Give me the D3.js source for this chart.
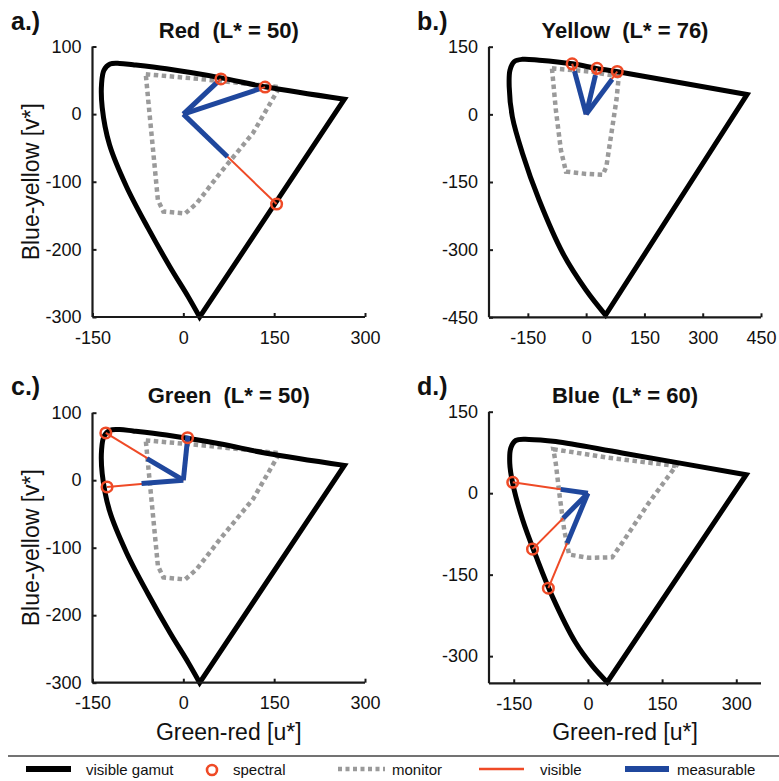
<!DOCTYPE html>
<html><head><meta charset="utf-8">
<script src="https://cdn.jsdelivr.net/npm/d3@7"></script>
<style>body{margin:0;background:#fff}text{font-family:"Liberation Sans",Arial,Helvetica,sans-serif}</style>
</head><body><svg id="c" width="779" height="781"></svg>
<script>
// ---- data (CIELUV u*, v*) ----
const titles = ["Red  (L* = 50)", "Yellow  (L* = 76)", "Green  (L* = 50)", "Blue  (L* = 60)"];
const panelLetters = ["a.)", "b.)", "c.)", "d.)"];
const xTicksAC = [-150, 0, 150, 300];
const yTicksAC = [100, 0, -100, -200, -300];
const xTicksB = [-150, 0, 150, 300, 450];
const yTicksB = [150, 0, -150, -300, -450];
const xTicksD = [-150, 0, 150, 300];
const yTicksD = [150, 0, -150, -300];

// visible gamut boundary (L*=50 used in a & c)
const gamut50 = [[266,22],[137,40],[60,54],[-28,67],[-83,73],[-105,75],[-121,74],[-131,65],[-135,45],[-134,10],[-122,-45],[-94,-107],[-58,-169],[-22,-226],[8,-270],[27,-300]];
const gamut76 = [[414,44],[78,95],[26,102],[-35,112],[-121,120],[-164,122],[-185,117],[-196,98],[-198,61],[-190,-5],[-164,-86],[-121,-190],[-60,-308],[0,-390],[50,-445]];
const gamut60 = [[320,34],[69,74],[-65,95],[-119,99],[-146,97],[-156,83],[-158,55],[-152,18],[-132,-49],[-105,-116],[-72,-190],[-25,-275],[9,-318],[39,-348]];

// monitor gamut
const monitor50 = [[-62,59],[27,52],[159,40],[115,-28],[60,-88],[22,-132],[3,-147],[-33,-144],[-42,-127],[-50,-53],[-58,21]];
const monitor76 = [[-88,102],[9,95],[84,84],[78,32],[65,-42],[52,-116],[43,-134],[0,-132],[-52,-127],[-65,-79],[-78,10],[-86,84]];
const monitor60 = [[-70,81],[36,66],[178,50],[123,-18],[69,-92],[49,-118],[2,-119],[-38,-113],[-48,-67],[-57,-6],[-65,55]];

// spectral (visible) end points and measurable end points per hue ray
const spectralA = [[62,52],[135,40],[154,-133]];
const measurableA = [[57,48],[128,38],[73,-63]];
const spectralB = [[-36,112],[28,102],[80,95]];
const measurableB = [[-30,96],[24,87],[67,78]];
const spectralC = [[-128,70],[-126,-10],[7,63]];
const measurableC = [[-60,32],[-69,-5],[7.5,66]];
const spectralD = [[-152,20],[-112,-103],[-80,-175]];
const measurableD = [[-55,7],[-50,-46],[-42,-92]];

const legendLabels = ["visible gamut", "spectral", "monitor", "visible", "measurable"];

// ---- style ----
const C_RED = "#ef4a26", C_BLUE = "#1f479d", C_GRAY = "#9a9a9a", C_AX = "#1a1a1a";

const panels = [
  {box:[92.5,46.5,365,317], xd:[-150,300], yd:[-300,100], xt:xTicksAC, yt:yTicksAC, g:gamut50, m:monitor50, s:spectralA, me:measurableA, ylab:true, xlab:false},
  {box:[489,46.7,761,317.3], xd:[-250,450], yd:[-450,150], xt:xTicksB, yt:yTicksB, g:gamut76, m:monitor76, s:spectralB, me:measurableB, ylab:false, xlab:false},
  {box:[92.5,412.7,365,682.7], xd:[-150,300], yd:[-300,100], xt:xTicksAC, yt:yTicksAC, g:gamut50, m:monitor50, s:spectralC, me:measurableC, ylab:true, xlab:true},
  {box:[489,411.7,761,683.3], xd:[-200,350], yd:[-350,150], xt:xTicksD, yt:yTicksD, g:gamut60, m:monitor60, s:spectralD, me:measurableD, ylab:false, xlab:true}
];

const svg = d3.select("#c");
const fmt = d => String(d);

panels.forEach((p, i) => {
  const [x0, y0, x1, y1] = p.box;
  const x = d3.scaleLinear().domain(p.xd).range([x0, x1]);
  const y = d3.scaleLinear().domain(p.yd).range([y1, y0]);
  const g = svg.append("g");

  // monitor gamut
  g.append("path").attr("d", d3.line().x(d => x(d[0])).y(d => y(d[1])).curve(d3.curveLinearClosed)(p.m))
    .attr("fill", "none").attr("stroke", C_GRAY).attr("stroke-width", 4.5).attr("stroke-dasharray", "4.5,3.5");

  // visible gamut
  const cr = d3.line().x(d => x(d[0])).y(d => y(d[1])).curve(d3.curveCatmullRom.alpha(0.5));
  g.append("path").attr("d", cr(p.g) + "Z")
    .attr("fill", "none").attr("stroke", "#000").attr("stroke-width", 5).attr("stroke-linejoin", "miter");

  // visible rays
  p.s.forEach(s => {
    g.append("line").attr("x1", x(0)).attr("y1", y(0)).attr("x2", x(s[0])).attr("y2", y(s[1]))
      .attr("stroke", C_RED).attr("stroke-width", 2);
  });
  // measurable rays
  p.me.forEach(m => {
    g.append("line").attr("x1", x(0)).attr("y1", y(0)).attr("x2", x(m[0])).attr("y2", y(m[1]))
      .attr("stroke", C_BLUE).attr("stroke-width", 5).attr("stroke-linecap", "butt");
  });
  // spectral circles
  p.s.forEach(s => {
    g.append("circle").attr("cx", x(s[0])).attr("cy", y(s[1])).attr("r", 5.3)
      .attr("fill", "none").attr("stroke", C_RED).attr("stroke-width", 2.5);
  });

  // axes
  const xa = d3.axisBottom(x).tickValues(p.xt).tickSize(-4).tickPadding(14).tickFormat(fmt);
  const ya = d3.axisLeft(y).tickValues(p.yt).tickSize(-4).tickPadding(11).tickFormat(fmt);
  const gx = g.append("g").attr("transform", `translate(0,${y1})`).call(xa);
  const gy = g.append("g").attr("transform", `translate(${x0},0)`).call(ya);
  [gx, gy].forEach(a => {
    a.select(".domain").attr("stroke", C_AX).attr("stroke-width", 2.2);
    a.selectAll(".tick line").attr("stroke", C_AX).attr("stroke-width", 2);
    a.selectAll(".tick text").attr("font-size", 18).attr("fill", "#111")
      .style("font-family", '"Liberation Sans",Arial,sans-serif');
  });
  gx.selectAll(".domain").attr("d", `M${x0},0H${x1}`);
  gy.selectAll(".domain").attr("d", `M0,${y1}V${y0}`);

  // title and panel letter
  const cx = (x0 + x1) / 2;
  const topY = i < 2 ? 0 : 365;
  g.append("text").attr("x", cx).attr("y", topY + 38).attr("text-anchor", "middle")
    .attr("font-size", 22).attr("font-weight", "bold").style("white-space", "pre").attr("fill", "#111").text(titles[i]);
  g.append("text").attr("x", i % 2 === 0 ? 11 : 417).attr("y", topY + 30)
    .attr("font-size", 25).attr("font-weight", "bold").attr("fill", "#111").text(panelLetters[i]);

  if (p.ylab) {
    g.append("text").attr("transform", `translate(39,${(y0 + y1) / 2}) rotate(-90)`).attr("text-anchor", "middle")
      .attr("font-size", 23).attr("fill", "#111").text("Blue-yellow [v*]");
  }
  if (p.xlab) {
    g.append("text").attr("x", cx).attr("y", 740).attr("text-anchor", "middle")
      .attr("font-size", 23).attr("fill", "#111").text("Green-red [u*]");
  }
});

// separator
svg.append("line").attr("x1", 8).attr("x2", 779).attr("y1", 756).attr("y2", 756).attr("stroke", "#444").attr("stroke-width", 1.5);

// legend
const ly = 769, lt = 775;
const lg = svg.append("g");
lg.append("line").attr("x1", 26).attr("x2", 71).attr("y1", ly).attr("y2", ly).attr("stroke", "#000").attr("stroke-width", 6);
lg.append("circle").attr("cx", 212).attr("cy", ly + 1).attr("r", 5).attr("fill", "none").attr("stroke", C_RED).attr("stroke-width", 2.6);
lg.append("line").attr("x1", 338).attr("x2", 385).attr("y1", ly).attr("y2", ly).attr("stroke", C_GRAY).attr("stroke-width", 4.5).attr("stroke-dasharray", "4,3.5");
lg.append("line").attr("x1", 479).attr("x2", 524).attr("y1", ly).attr("y2", ly).attr("stroke", C_RED).attr("stroke-width", 2.5);
lg.append("line").attr("x1", 625).attr("x2", 669).attr("y1", ly).attr("y2", ly).attr("stroke", C_BLUE).attr("stroke-width", 6);
const lx = [86, 233, 392, 540, 677];
legendLabels.forEach((t, k) => {
  lg.append("text").attr("x", lx[k]).attr("y", lt).attr("font-size", 15).attr("fill", "#111").text(t);
});
</script></body></html>
